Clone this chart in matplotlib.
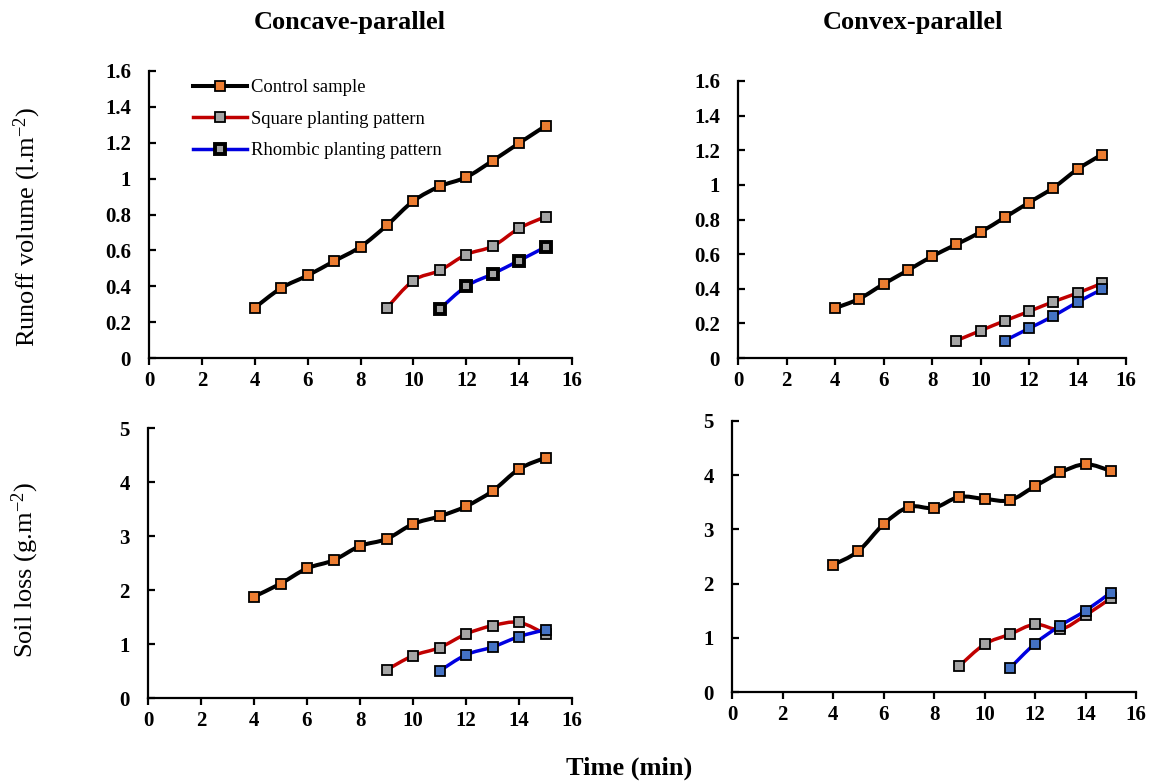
import numpy as np
import matplotlib
matplotlib.use("Agg")
import matplotlib.pyplot as plt
from matplotlib.path import Path
from matplotlib.patches import PathPatch

plt.rcParams['font.family'] = ['Liberation Serif', 'DejaVu Serif']
plt.rcParams['mathtext.fontset'] = 'custom'
plt.rcParams['mathtext.rm'] = 'Liberation Serif'
plt.rcParams['mathtext.it'] = 'Liberation Serif:italic'

# time (min)
t_control = [4, 5, 6, 7, 8, 9, 10, 11, 12, 13, 14, 15]
t_square = [9, 10, 11, 12, 13, 14, 15]
t_rhombic = [11, 12, 13, 14, 15]

# runoff volume (l.m-2)
runoff_concave_control = [0.28, 0.39, 0.46, 0.54, 0.62, 0.74, 0.875, 0.957, 1.008, 1.10, 1.198, 1.294]
runoff_concave_square = [0.28, 0.432, 0.488, 0.577, 0.623, 0.723, 0.788]
runoff_concave_rhombic = [0.274, 0.40, 0.469, 0.543, 0.619]
runoff_convex_control = [0.288, 0.342, 0.427, 0.506, 0.587, 0.656, 0.727, 0.812, 0.898, 0.983, 1.09, 1.175]
runoff_convex_square = [0.10, 0.158, 0.215, 0.269, 0.325, 0.375, 0.431]
runoff_convex_rhombic = [0.10, 0.171, 0.242, 0.323, 0.396]

# soil loss (g.m-2)
soil_concave_control = [1.877, 2.117, 2.40, 2.55, 2.815, 2.944, 3.222, 3.364, 3.55, 3.833, 4.24, 4.45]
soil_concave_square = [0.519, 0.784, 0.932, 1.185, 1.34, 1.40, 1.185]
soil_concave_rhombic = [0.50, 0.80, 0.944, 1.136, 1.265]
soil_convex_control = [2.345, 2.597, 3.095, 3.415, 3.397, 3.60, 3.563, 3.538, 3.797, 4.05, 4.203, 4.08]
soil_convex_square = [0.48, 0.88, 1.065, 1.249, 1.157, 1.415, 1.73]
soil_convex_rhombic = [0.437, 0.892, 1.225, 1.50, 1.834]

series_names = ['Control sample', 'Square planting pattern', 'Rhombic planting pattern']
line_colors = ['black', '#C00000', '#0000E0']
marker_colors = ['#ED7D31', '#A5A5A5', '#4472C4']

W, H = 1152, 784


def px_axes(fig, x0, y0, x1, y1):
    return fig.add_axes([x0 / W, 1 - y1 / H, (x1 - x0) / W, (y1 - y0) / H])


def smooth_path(x, y, k=1/6):
    # Catmull-Rom style cubic Bezier through the data points (like Excel smoothed lines)
    x = np.asarray(x, float)
    y = np.asarray(y, float)
    verts = [(x[0], y[0])]
    codes = [Path.MOVETO]
    n = len(x)
    for i in range(n - 1):
        x0, y0 = (x[i - 1], y[i - 1]) if i > 0 else (x[i], y[i])
        x3, y3 = (x[i + 2], y[i + 2]) if i + 2 < n else (x[i + 1], y[i + 1])
        c1 = (x[i] + (x[i + 1] - x0) * k, y[i] + (y[i + 1] - y0) * k)
        c2 = (x[i + 1] - (x3 - x[i]) * k, y[i + 1] - (y3 - y[i]) * k)
        verts += [c1, c2, (x[i + 1], y[i + 1])]
        codes += [Path.CURVE4] * 3
    return Path(verts, codes)


def draw_series(ax, x, y, idx, dark_rhombic=False):
    lw = 2.9 if idx == 0 else 2.5
    ax.add_patch(PathPatch(smooth_path(x, y), facecolor='none', edgecolor=line_colors[idx],
                           lw=lw, zorder=2, capstyle='round', joinstyle='round'))
    if idx == 2 and dark_rhombic:
        ax.plot(x, y, ls='none', marker='s', ms=7.5, mfc='#A5A5A5', mec='black', mew=2.8, zorder=3)
    else:
        ax.plot(x, y, ls='none', marker='s', ms=7, mfc=marker_colors[idx], mec='black', mew=1.3, zorder=3)


def style_axes(ax, ymax, ystep, yfmt):
    ax.set_xlim(0, 16)
    ax.set_ylim(0, ymax)
    ax.set_xticks(np.arange(0, 17, 2))
    ticks = np.arange(0, ymax + ystep / 2, ystep)
    ax.set_yticks(ticks)
    ax.set_yticklabels([yfmt(v) for v in ticks])
    for s in ['top', 'right']:
        ax.spines[s].set_visible(False)
    for s in ['left', 'bottom']:
        ax.spines[s].set_linewidth(1.6)
    ax.tick_params(axis='x', direction='out', length=5, width=1.6, pad=4)
    ax.tick_params(axis='y', direction='in', length=5, width=1.6, pad=13)
    for lab in ax.get_xticklabels() + ax.get_yticklabels():
        lab.set_fontweight('bold')
        lab.set_fontsize(15)
    ax.patch.set_alpha(0)


def fmt_runoff(v):
    s = f'{v:.1f}'
    return s[:-2] if s.endswith('.0') else s


def fmt_soil(v):
    return f'{v:.0f}'


fig = plt.figure(figsize=(W / 100, H / 100), dpi=100)

ax_tl = px_axes(fig, 149, 71, 572, 358)
ax_tr = px_axes(fig, 738, 81, 1126, 358)
ax_bl = px_axes(fig, 148, 428, 572, 698)
ax_br = px_axes(fig, 732, 421, 1136, 692)

panels = [
    (ax_tl, [runoff_concave_control, runoff_concave_square, runoff_concave_rhombic], 1.6, 0.2, fmt_runoff, True),
    (ax_tr, [runoff_convex_control, runoff_convex_square, runoff_convex_rhombic], 1.6, 0.2, fmt_runoff, False),
    (ax_bl, [soil_concave_control, soil_concave_square, soil_concave_rhombic], 5, 1, fmt_soil, False),
    (ax_br, [soil_convex_control, soil_convex_square, soil_convex_rhombic], 5, 1, fmt_soil, False),
]
times = [t_control, t_square, t_rhombic]

for ax, ys, ymax, ystep, fmt, dark in panels:
    style_axes(ax, ymax, ystep, fmt)
    for i in range(3):
        draw_series(ax, times[i], ys[i], i, dark_rhombic=dark)

# legend in the first panel
handles = []
for i in range(3):
    lw = 2.9 if i == 0 else 2.5
    if i == 2:
        h, = ax_tl.plot([], [], color=line_colors[i], lw=lw, marker='s', ms=7.5,
                        mfc='#A5A5A5', mec='black', mew=2.8)
    else:
        h, = ax_tl.plot([], [], color=line_colors[i], lw=lw, marker='s', ms=7,
                        mfc=marker_colors[i], mec='black', mew=1.3)
    handles.append(h)
ax_tl.legend(handles, series_names, loc='upper left', bbox_to_anchor=(193 / W, 1 - 79 / H),
             bbox_transform=fig.transFigure, frameon=False, fontsize=13.4, handlelength=2.9,
             handletextpad=0.2, labelspacing=0.78, borderpad=0, borderaxespad=0)

fig.text(350 / W, 1 - 23 / H, 'Concave-parallel', ha='center', va='center', fontsize=19, fontweight='bold')
fig.text(913 / W, 1 - 23 / H, 'Convex-parallel', ha='center', va='center', fontsize=19, fontweight='bold')
fig.text(27 / W, 1 - 227 / H, 'Runoff volume (l.m$^{-2}$)', rotation=90, ha='center', va='center', fontsize=19)
fig.text(25 / W, 1 - 570 / H, 'Soil loss (g.m$^{-2}$)', rotation=90, ha='center', va='center', fontsize=19)
fig.text(629 / W, 1 - 768 / H, 'Time (min)', ha='center', va='center', fontsize=19, fontweight='bold')

fig.savefig('out.png', dpi=100)
